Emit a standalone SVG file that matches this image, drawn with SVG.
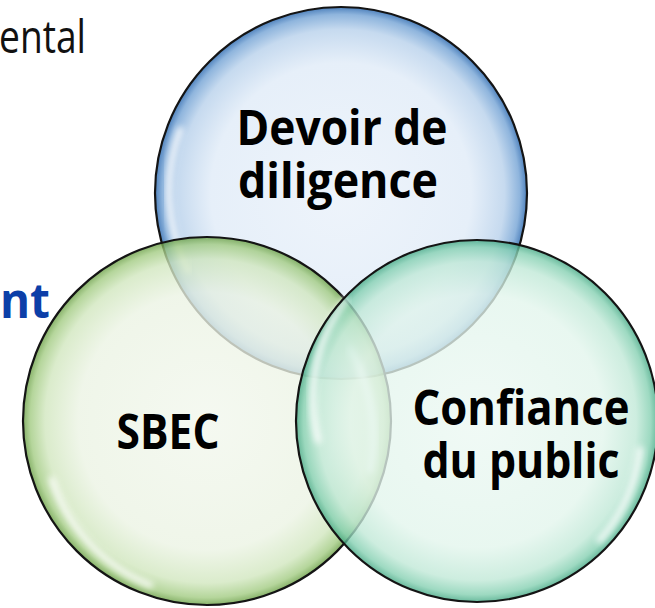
<svg xmlns="http://www.w3.org/2000/svg" width="655" height="608" viewBox="0 0 655 608">
  <defs>
    <radialGradient id="gBlue" cx="0.5" cy="0.5" r="0.5">
      <stop offset="0" stop-color="#eef4fb"/>
      <stop offset="0.7" stop-color="#e6eff9"/>
      <stop offset="0.88" stop-color="#c6daef"/>
      <stop offset="0.96" stop-color="#8fb5dd"/>
      <stop offset="1" stop-color="#4f82bd"/>
    </radialGradient>
    <radialGradient id="gGreen" cx="0.5" cy="0.5" r="0.5">
      <stop offset="0" stop-color="#f2f7ed"/>
      <stop offset="0.7" stop-color="#ebf3e3"/>
      <stop offset="0.88" stop-color="#d0e6bd"/>
      <stop offset="0.96" stop-color="#a0ca7f"/>
      <stop offset="1" stop-color="#659c3f"/>
    </radialGradient>
    <radialGradient id="gMint" cx="0.5" cy="0.5" r="0.5">
      <stop offset="0" stop-color="#ecf8f3"/>
      <stop offset="0.7" stop-color="#e2f5ec"/>
      <stop offset="0.88" stop-color="#bfe8d6"/>
      <stop offset="0.96" stop-color="#82cfb0"/>
      <stop offset="1" stop-color="#3fa681"/>
    </radialGradient>
    <filter id="soft" x="-20%" y="-20%" width="140%" height="140%">
      <feGaussianBlur stdDeviation="3"/>
    </filter>
  </defs>
  <style>
    .ring { stroke: #141414; stroke-width: 2.2; }
    .fill { fill-opacity: 0.78; }
    .gloss { fill: none; stroke: #ffffff; stroke-width: 7; stroke-linecap: round; opacity: 0.8; filter: url(#soft); }
    .label { font-family: "Open Sans", "Liberation Sans", sans-serif; font-weight: 700; font-size: 49px; fill: #000000; text-anchor: middle; }
  </style>

  <!-- background partial text -->
  <text x="86" y="53" font-family="Open Sans, Liberation Sans, sans-serif" font-size="46" fill="#111111" text-anchor="end" textLength="87" lengthAdjust="spacingAndGlyphs">ental</text>
  <text x="50" y="318" font-family="Open Sans, Liberation Sans, sans-serif" font-size="48" font-weight="700" fill="#0c3fa8" text-anchor="end" textLength="50" lengthAdjust="spacingAndGlyphs">nt</text>

  <g id="node-devoir">
    <circle cx="341" cy="193" r="186" fill="url(#gBlue)"/>
    <path class="gloss" d="M 188 270 A 172 172 0 0 1 180 130"/>
    <path class="gloss" d="M 510 90 A 172 172 0 0 1 505 290" opacity="0.4"/>
    <circle cx="341" cy="193" r="186" fill="none" class="ring"/>
    <text class="label" x="342" y="145" textLength="211" lengthAdjust="spacingAndGlyphs">Devoir de</text>
    <text class="label" x="338" y="198" textLength="200" lengthAdjust="spacingAndGlyphs">diligence</text>
  </g>

  <g id="node-sbec">
    <circle cx="207" cy="421" r="184" fill="url(#gGreen)" class="fill"/>
    <path class="gloss" d="M 52 480 A 170 170 0 0 0 150 585" opacity="0.6"/>
    <path class="gloss" d="M 350 350 A 170 170 0 0 1 370 470" opacity="0.45"/>
    <circle cx="207" cy="421" r="184" fill="none" class="ring"/>
    <text class="label" x="168" y="449" textLength="103" lengthAdjust="spacingAndGlyphs">SBEC</text>
  </g>

  <g id="node-confiance">
    <circle cx="477" cy="421" r="181" fill="url(#gMint)" class="fill"/>
    <path class="gloss" d="M 345 300 A 168 168 0 0 0 318 440"/>
    <path class="gloss" d="M 640 450 A 168 168 0 0 1 600 540" opacity="0.55"/>
    <circle cx="477" cy="421" r="181" fill="none" class="ring"/>
    <text class="label" x="521" y="425" textLength="217" lengthAdjust="spacingAndGlyphs">Confiance</text>
    <text class="label" x="521" y="478" textLength="197" lengthAdjust="spacingAndGlyphs">du public</text>
  </g>

  <g id="connectors"/>
</svg>
